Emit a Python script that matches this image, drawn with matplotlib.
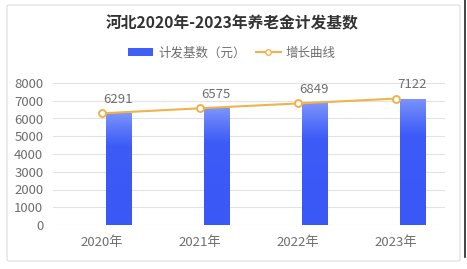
import numpy as np
import matplotlib
matplotlib.use("Agg")
import matplotlib.pyplot as plt
from matplotlib.patches import Patch, FancyBboxPatch
from matplotlib.lines import Line2D
from matplotlib.colors import LinearSegmentedColormap

plt.rcParams['font.family'] = ['Noto Sans CJK SC', 'DejaVu Sans']

# data
years = ['2020年', '2021年', '2022年', '2023年']
base = [6291, 6575, 6849, 7122]
yticks = [0, 1000, 2000, 3000, 4000, 5000, 6000, 7000, 8000]

title = '河北2020年-2023年养老金计发基数'
bar_name = '计发基数（元）'
line_name = '增长曲线'

bar_color = '#3f5ff7'
line_color = '#f2b24a'
gray = '#6e6e6e'

fig = plt.figure(figsize=(4.67, 2.69), dpi=100)
fig.patch.set_facecolor('white')

# card border
card = FancyBboxPatch((7 / 467, 8 / 269), 453 / 467, 256 / 269,
                      boxstyle='round,pad=0,rounding_size=0.005',
                      transform=fig.transFigure, facecolor='none',
                      edgecolor='#dcdcdc', linewidth=0.8)
fig.patches.append(card)
fig.add_artist(Line2D([465 / 467, 465 / 467], [12 / 269, 1.0],
                      transform=fig.transFigure, color='#222222', linewidth=1.2))

ax = fig.add_axes([53 / 467, 1 - 225 / 269, 392 / 467, 142 / 269])
x = np.arange(len(years))
offset = 0.173
width = 0.265

ax.set_xlim(-0.5, 3.5)
ax.set_ylim(0, 8000)

# gradient bars
cmap = LinearSegmentedColormap.from_list('b', ['#3a58f6', '#3d5cf7', '#7d95fb'])
grad = np.linspace(0, 1, 256).reshape(-1, 1)
bars = ax.bar(x + offset, base, width=width, color=bar_color, zorder=2)
for b in bars:
    x0, y0 = b.get_x(), b.get_y()
    w, h = b.get_width(), b.get_height()
    img = ax.imshow(grad ** 2, cmap=cmap, aspect='auto', origin='lower',
                    extent=(x0, x0 + w, y0, y0 + h), zorder=2.1)
    img.set_clip_path(b)

ax.plot(x, base, color=line_color, linewidth=1.5, marker='o', markersize=5,
        markerfacecolor='white', markeredgecolor=line_color,
        markeredgewidth=1.4, zorder=3)

for xi, v in zip(x, base):
    ax.text(xi + offset * 0.95, v + 420, str(v), ha='center', va='bottom',
            fontsize=9.5, color=gray)

ax.set_yticks(yticks)
ax.set_xticks(x)
ax.set_xticklabels(years)
ax.tick_params(axis='both', length=0, labelsize=9.5, labelcolor=gray)
ax.tick_params(axis='x', pad=8)
ax.tick_params(axis='y', pad=7)
ax.grid(axis='y', color='#e2e2e2', linewidth=0.8, zorder=0)
ax.set_axisbelow(True)
for s in ax.spines.values():
    s.set_visible(False)

fig.text(0.497, 1 - 23 / 269, title, ha='center', va='center',
         fontsize=11.3, fontweight='bold', color='#333333')

handles = [Patch(facecolor=bar_color, edgecolor='none'),
           Line2D([], [], color=line_color, linewidth=1.5, marker='o',
                  markersize=4, markerfacecolor='white',
                  markeredgecolor=line_color)]
fig.legend(handles, [bar_name, line_name], loc='center',
           bbox_to_anchor=(0.497, 1 - 53 / 269), ncol=2, frameon=False,
           fontsize=9, labelcolor=gray, handlelength=2.0, handleheight=0.55,
           handletextpad=0.4, columnspacing=0.8)

fig.savefig('out.png', dpi=100)
